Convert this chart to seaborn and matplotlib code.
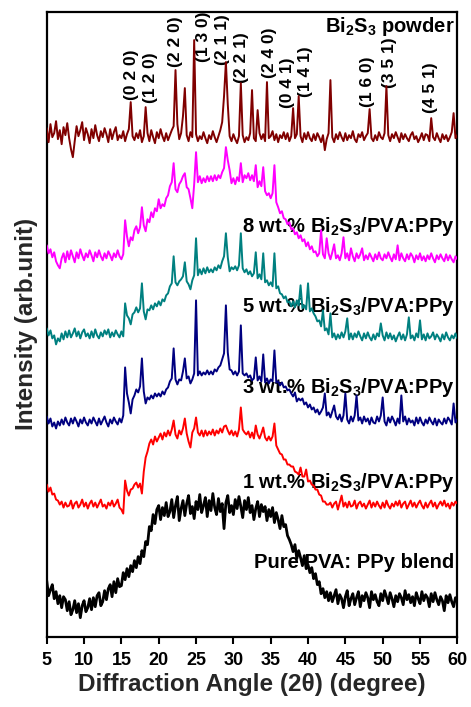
import numpy as np
import pandas as pd
import matplotlib
matplotlib.use("Agg")
import matplotlib.pyplot as plt
import seaborn as sns

# measurement angles (2-theta, degree), 0.25 degree steps from 5 to 60
two_theta = np.linspace(5, 60, 221)

# intensities (arb. unit, stacked offsets as in the figure), 4 values per degree
bi2s3_powder = [
    508, 494, 512, 499,  # 5
    503, 515, 497, 506,  # 6
    492, 509, 501, 513,  # 7
    498, 487, 479, 495,  # 8
    510, 500, 506, 514,  # 9
    496, 508, 502, 493,  # 10
    507, 498, 511, 501,  # 11
    495, 505, 499, 508,  # 12
    502, 494, 507, 497,  # 13
    504, 509, 496, 501,  # 14
    498, 505, 495, 502,  # 15
    507, 534, 500, 496,  # 16
    503, 498, 506, 494,  # 17
    500, 529, 503, 495,  # 18
    506, 499, 493, 504,  # 19
    498, 507, 500, 495,  # 20
    503, 496, 501, 506,  # 21
    510, 566, 512, 497,  # 22
    503, 520, 548, 501,  # 23
    495, 504, 499, 596,  # 24
    502, 495, 500, 497,  # 25
    504, 498, 493, 501,  # 26
    497, 505, 499, 494,  # 27
    500, 506, 514, 540,  # 28
    574, 532, 500, 495,  # 29
    502, 497, 493, 500,  # 30
    553, 501, 494, 499,  # 31
    496, 503, 546, 498,  # 32
    495, 526, 503, 497,  # 33
    502, 495, 554, 498,  # 34
    500, 505, 496, 502,  # 35
    494, 501, 498, 504,  # 36
    497, 503, 495, 500,  # 37
    528, 498, 502, 540,  # 38
    500, 494, 503, 497,  # 39
    504, 498, 495, 502,  # 40
    496, 503, 499, 494,  # 41
    501, 486, 497, 503,  # 42
    556, 499, 494, 502,  # 43
    497, 504, 499, 495,  # 44
    503, 496, 501, 498,  # 45
    505, 497, 494, 502,  # 46
    499, 504, 496, 500,  # 47
    503, 527, 498, 495,  # 48
    501, 496, 504, 499,  # 49
    497, 503, 550, 501,  # 50
    495, 502, 498, 504,  # 51
    499, 494, 503, 497,  # 52
    502, 498, 495, 501,  # 53
    504, 497, 500, 494,  # 54
    498, 503, 496, 502,  # 55
    501, 495, 518, 499,  # 56
    496, 503, 498, 494,  # 57
    502, 497, 501, 495,  # 58
    499, 504, 523, 498,  # 59
    501,                 # 60
]

wt8_composite = [
    391, 383, 387, 379,  # 5
    384, 375, 371, 368,  # 6
    378, 383, 374, 385,  # 7
    377, 386, 380, 374,  # 8
    384, 378, 387, 381,  # 9
    376, 383, 379, 386,  # 10
    381, 375, 384, 379,  # 11
    386, 380, 376, 383,  # 12
    378, 385, 381, 376,  # 13
    383, 379, 386, 380,  # 14
    377, 382, 416, 400,  # 15
    390, 399, 396, 406,  # 16
    410, 403, 409, 429,  # 17
    411, 405, 417, 414,  # 18
    424, 419, 428, 425,  # 19
    437, 428, 432, 430,  # 20
    438, 441, 450, 454,  # 21
    473, 447, 444, 452,  # 22
    455, 460, 463, 449,  # 23
    447, 438, 428, 452,  # 24
    484, 454, 460, 453,  # 25
    458, 454, 460, 455,  # 26
    460, 455, 461, 456,  # 27
    461, 458, 464, 468,  # 28
    489, 476, 466, 453,  # 29
    458, 452, 459, 455,  # 30
    473, 454, 461, 458,  # 31
    463, 456, 461, 455,  # 32
    471, 449, 455, 450,  # 33
    469, 445, 441, 443,  # 34
    438, 443, 471, 434,  # 35
    429, 423, 425, 418,  # 36
    417, 412, 414, 407,  # 37
    408, 402, 404, 398,  # 38
    401, 395, 397, 390,  # 39
    394, 387, 390, 384,  # 40
    385, 380, 383, 406,  # 41
    382, 378, 398, 383,  # 42
    377, 384, 392, 378,  # 43
    381, 376, 383, 399,  # 44
    378, 383, 376, 388,  # 45
    380, 375, 383, 378,  # 46
    382, 388, 376, 381,  # 47
    377, 383, 379, 375,  # 48
    382, 377, 384, 378,  # 49
    376, 382, 378, 384,  # 50
    379, 375, 382, 377,  # 51
    391, 376, 383, 378,  # 52
    375, 382, 377, 383,  # 53
    380, 374, 381, 377,  # 54
    383, 376, 380, 375,  # 55
    381, 377, 383, 378,  # 56
    374, 381, 377, 382,  # 57
    378, 375, 382, 376,  # 58
    381, 377, 374, 380,  # 59
    377,                 # 60
]

wt5_composite = [
    308, 301, 306, 298,  # 5
    301, 292, 298, 295,  # 6
    303, 297, 305, 299,  # 7
    306, 299, 303, 308,  # 8
    300, 305, 298, 304,  # 9
    307, 300, 303, 298,  # 10
    305, 299, 307, 301,  # 11
    298, 304, 300, 306,  # 12
    302, 307, 299, 304,  # 13
    300, 306, 302, 299,  # 14
    305, 300, 333, 321,  # 15
    318, 312, 322, 324,  # 16
    329, 324, 328, 353,  # 17
    325, 317, 327, 326,  # 18
    331, 327, 333, 330,  # 19
    335, 331, 337, 335,  # 20
    341, 343, 350, 353,  # 21
    380, 354, 351, 355,  # 22
    357, 360, 374, 355,  # 23
    352, 347, 356, 361,  # 24
    398, 361, 367, 362,  # 25
    368, 363, 369, 364,  # 26
    367, 364, 369, 366,  # 27
    371, 368, 375, 380,  # 28
    403, 379, 365, 369,  # 29
    367, 370, 366, 371,  # 30
    403, 368, 364, 367,  # 31
    362, 365, 360, 363,  # 32
    384, 358, 362, 357,  # 33
    383, 354, 356, 351,  # 34
    354, 350, 383, 348,  # 35
    350, 343, 342, 338,  # 36
    340, 334, 335, 330,  # 37
    335, 329, 336, 331,  # 38
    351, 328, 331, 327,  # 39
    353, 325, 328, 323,  # 40
    320, 315, 316, 310,  # 41
    326, 306, 308, 302,  # 42
    323, 299, 303, 297,  # 43
    302, 298, 304, 299,  # 44
    305, 318, 297, 303,  # 45
    297, 303, 299, 305,  # 46
    300, 296, 303, 298,  # 47
    304, 299, 296, 302,  # 48
    297, 303, 300, 313,  # 49
    301, 296, 304, 298,  # 50
    303, 297, 301, 295,  # 51
    300, 304, 297, 302,  # 52
    296, 302, 319, 298,  # 53
    301, 296, 303, 299,  # 54
    316, 297, 302, 296,  # 55
    303, 298, 300, 304,  # 56
    297, 302, 299, 295,  # 57
    302, 297, 304, 299,  # 58
    296, 301, 298, 303,  # 59
    298,                 # 60
]

wt3_composite = [
    220, 213, 218, 210,  # 5
    214, 208, 215, 211,  # 6
    217, 212, 219, 214,  # 7
    211, 218, 213, 219,  # 8
    215, 210, 217, 213,  # 9
    219, 214, 211, 217,  # 10
    213, 219, 215, 211,  # 11
    218, 212, 216, 220,  # 12
    214, 210, 217, 213,  # 13
    219, 215, 212, 218,  # 14
    214, 221, 269, 243,  # 15
    234, 223, 237, 241,  # 16
    247, 244, 250, 278,  # 17
    245, 233, 239, 237,  # 18
    241, 238, 243, 240,  # 19
    243, 240, 245, 242,  # 20
    247, 249, 255, 258,  # 21
    288, 257, 252, 257,  # 22
    256, 265, 278, 258,  # 23
    260, 253, 257, 263,  # 24
    336, 261, 265, 261,  # 25
    264, 262, 266, 262,  # 26
    265, 262, 267, 265,  # 27
    269, 271, 277, 283,  # 28
    331, 284, 267, 266,  # 29
    262, 265, 261, 265,  # 30
    311, 263, 261, 263,  # 31
    259, 261, 256, 258,  # 32
    279, 256, 260, 255,  # 33
    282, 254, 258, 253,  # 34
    257, 255, 286, 254,  # 35
    255, 251, 254, 249,  # 36
    250, 246, 247, 243,  # 37
    240, 244, 235, 238,  # 38
    236, 238, 232, 234,  # 39
    229, 232, 227, 229,  # 40
    224, 227, 222, 225,  # 41
    229, 243, 221, 224,  # 42
    219, 225, 231, 220,  # 43
    217, 222, 215, 221,  # 44
    243, 217, 213, 220,  # 45
    215, 221, 241, 216,  # 46
    219, 213, 220, 215,  # 47
    218, 212, 219, 214,  # 48
    213, 220, 215, 221,  # 49
    239, 215, 211, 219,  # 50
    214, 220, 216, 211,  # 51
    218, 213, 241, 215,  # 52
    220, 212, 218, 214,  # 53
    216, 211, 219, 213,  # 54
    219, 214, 211, 217,  # 55
    213, 219, 215, 212,  # 56
    218, 211, 217, 214,  # 57
    212, 218, 213, 219,  # 58
    216, 212, 233, 214,  # 59
    217,                 # 60
]

wt1_composite = [
    152, 145, 149, 142,  # 5
    143, 137, 136, 132,  # 6
    135, 129, 134, 130,  # 7
    131, 136, 128, 133,  # 8
    135, 129, 132, 137,  # 9
    130, 134, 128, 133,  # 10
    136, 130, 134, 129,  # 11
    133, 137, 130, 132,  # 12
    128, 134, 131, 136,  # 13
    130, 133, 137, 129,  # 14
    127, 123, 156, 146,  # 15
    141, 147, 148, 152,  # 16
    154, 149, 153, 143,  # 17
    165, 179, 185, 193,  # 18
    197, 192, 200, 195,  # 19
    199, 203, 197, 204,  # 20
    200, 206, 201, 207,  # 21
    216, 202, 198, 206,  # 22
    202, 208, 218, 203,  # 23
    195, 189, 204, 208,  # 24
    219, 204, 201, 206,  # 25
    200, 206, 201, 205,  # 26
    202, 207, 201, 206,  # 27
    203, 208, 204, 210,  # 28
    211, 206, 202, 206,  # 29
    201, 205, 200, 207,  # 30
    229, 207, 204, 202,  # 31
    205, 199, 204, 198,  # 32
    211, 202, 198, 203,  # 33
    209, 199, 196, 200,  # 34
    196, 200, 213, 191,  # 35
    187, 183, 182, 177,  # 36
    177, 172, 172, 170,  # 37
    170, 165, 164, 162,  # 38
    169, 160, 160, 167,  # 39
    155, 156, 152, 151,  # 40
    147, 147, 142, 141,  # 41
    135, 135, 132, 132,  # 42
    134, 129, 133, 135,  # 43
    127, 134, 141, 130,  # 44
    134, 129, 135, 130,  # 45
    131, 136, 128, 133,  # 46
    135, 130, 133, 128,  # 47
    132, 136, 129, 134,  # 48
    130, 135, 131, 128,  # 49
    134, 129, 136, 131,  # 50
    128, 133, 130, 135,  # 51
    131, 136, 129, 133,  # 52
    135, 128, 132, 136,  # 53
    130, 134, 129, 133,  # 54
    136, 131, 128, 134,  # 55
    129, 133, 136, 130,  # 56
    134, 128, 132, 135,  # 57
    131, 136, 130, 133,  # 58
    128, 134, 131, 135,  # 59
    133,                 # 60
]

pure_blend = [
    56, 41, 47, 52,      # 5
    38, 45, 33, 41,      # 6
    29, 40, 37, 26,      # 7
    35, 22, 27, 36,      # 8
    24, 33, 19, 31,      # 9
    36, 25, 29, 38,      # 10
    27, 39, 30, 41,      # 11
    44, 31, 35, 46,      # 12
    37, 48, 52, 40,      # 13
    55, 44, 58, 50,      # 14
    51, 64, 57, 68,      # 15
    60, 71, 65, 76,      # 16
    69, 80, 73, 86,      # 17
    80, 95, 92, 110,     # 18
    106, 122, 113, 127,  # 19
    131, 117, 129, 121,  # 20
    134, 120, 125, 137,  # 21
    119, 131, 140, 116,  # 22
    128, 136, 121, 133,  # 23
    141, 123, 130, 118,  # 24
    135, 127, 142, 124,  # 25
    131, 139, 120, 136,  # 26
    126, 143, 129, 122,  # 27
    138, 125, 133, 108,  # 28
    134, 141, 124, 131,  # 29
    122, 137, 128, 140,  # 30
    130, 119, 136, 127,  # 31
    139, 124, 131, 117,  # 32
    128, 135, 120, 132,  # 33
    125, 130, 116, 127,  # 34
    120, 129, 114, 124,  # 35
    117, 108, 121, 110,  # 36
    112, 101, 97, 92,    # 37
    85, 92, 78, 86,      # 38
    79, 71, 81, 68,      # 39
    72, 64, 69, 58,      # 40
    63, 52, 55, 43,      # 41
    48, 39, 45, 36,      # 42
    44, 35, 41, 47,      # 43
    33, 42, 38, 29,      # 44
    40, 46, 31, 38,      # 45
    43, 32, 39, 45,      # 46
    30, 41, 36, 44,      # 47
    39, 29, 45, 37,      # 48
    42, 35, 31, 43,      # 49
    36, 46, 40, 33,      # 50
    44, 38, 30, 41,      # 51
    35, 43, 39, 32,      # 52
    46, 37, 42, 34,      # 53
    40, 31, 44, 38,      # 54
    33, 45, 36, 42,      # 55
    39, 30, 43, 35,      # 56
    44, 37, 32, 40,      # 57
    36, 26, 41, 34,      # 58
    42, 35, 30, 39,      # 59
    37,                  # 60
]

series_names = ["Bi2S3 powder", "8 wt.%", "5 wt.%", "3 wt.%", "1 wt.%", "Pure"]
series_values = [bi2s3_powder, wt8_composite, wt5_composite,
                 wt3_composite, wt1_composite, pure_blend]
series_colors = ["#800000", "#ff00ff", "#008080", "#000080", "#ff0000", "#000000"]
series_widths = [1.4, 1.4, 1.4, 1.4, 1.4, 2.0]

series_labels = [r"Bi$_2$S$_3$ powder",
                 r"8 wt.% Bi$_2$S$_3$/PVA:PPy",
                 r"5 wt.% Bi$_2$S$_3$/PVA:PPy",
                 r"3 wt.% Bi$_2$S$_3$/PVA:PPy",
                 r"1 wt.% Bi$_2$S$_3$/PVA:PPy",
                 "Pure PVA: PPy blend"]
label_baselines = [604, 404, 324, 243, 149, 69]
label_x = 59.6

hkl_labels = ["(0 2 0)", "(1 2 0)", "(2 2 0)", "(1 3 0)", "(2 1 1)", "(2 2 1)",
              "(2 4 0)", "(0 4 1)", "(1 4 1)", "(1 6 0)", "(3 5 1)", "(4 5 1)"]
hkl_x = [16.3, 18.9, 22.2, 26.0, 28.6, 31.1, 34.8, 37.2, 39.7, 48.0, 50.9, 56.4]
hkl_y = [536, 533, 569, 574, 571, 553, 558, 528, 539, 529, 548, 523]

xticks = [5, 10, 15, 20, 25, 30, 35, 40, 45, 50, 55, 60]

# long table for seaborn
frames = []
for name, vals in zip(series_names, series_values):
    assert len(vals) == len(two_theta), name
    frames.append(pd.DataFrame({"two_theta": two_theta, "intensity": vals, "series": name}))
df = pd.concat(frames, ignore_index=True)

sns.set_theme(style="ticks")
plt.rcParams["font.family"] = ["Liberation Sans", "DejaVu Sans"]
plt.rcParams["font.weight"] = "bold"
plt.rcParams["mathtext.fontset"] = "custom"
plt.rcParams["mathtext.rm"] = "Liberation Sans:bold"
plt.rcParams["mathtext.it"] = "Liberation Sans:bold"
plt.rcParams["mathtext.bf"] = "Liberation Sans:bold"
plt.rcParams["mathtext.default"] = "rm"

fig = plt.figure(figsize=(4.71, 7.07), dpi=100)
ax = fig.add_axes([0.0992, 0.0994, 0.8718, 0.8836])

for name, color, lw in zip(series_names, series_colors, series_widths):
    sub = df[df["series"] == name]
    sns.lineplot(data=sub, x="two_theta", y="intensity", color=color,
                 linewidth=lw, estimator=None, ax=ax, zorder=3)

for txt, yb in zip(series_labels, label_baselines):
    ax.text(label_x, yb, txt, ha="right", va="baseline", fontsize=14.5,
            fontweight="bold", color="black", zorder=2)

for txt, hx, hy in zip(hkl_labels, hkl_x, hkl_y):
    ax.text(hx, hy, txt, rotation=90, ha="center", va="bottom", fontsize=12.5,
            fontweight="bold", color="black", clip_on=True, zorder=2)

ax.set_xlim(5, 60)
ax.set_ylim(0, 624)
ax.set_xticks(xticks)
ax.set_xticklabels([str(t) for t in xticks])
ax.set_yticks([])
ax.tick_params(axis="x", direction="out", length=5, width=1.5, pad=6,
               labelsize=13, colors="black")
for lab in ax.get_xticklabels():
    lab.set_fontweight("bold")
for sp in ax.spines.values():
    sp.set_visible(True)
    sp.set_linewidth(1.6)
    sp.set_color("black")

ax.set_xlabel("Diffraction Angle (2θ) (degree)", fontsize=17.5, fontweight="bold",
              labelpad=3)
ax.set_ylabel("Intensity (arb.unit)", fontsize=17.5, fontweight="bold", labelpad=6)

fig.savefig("out.png", dpi=100)
